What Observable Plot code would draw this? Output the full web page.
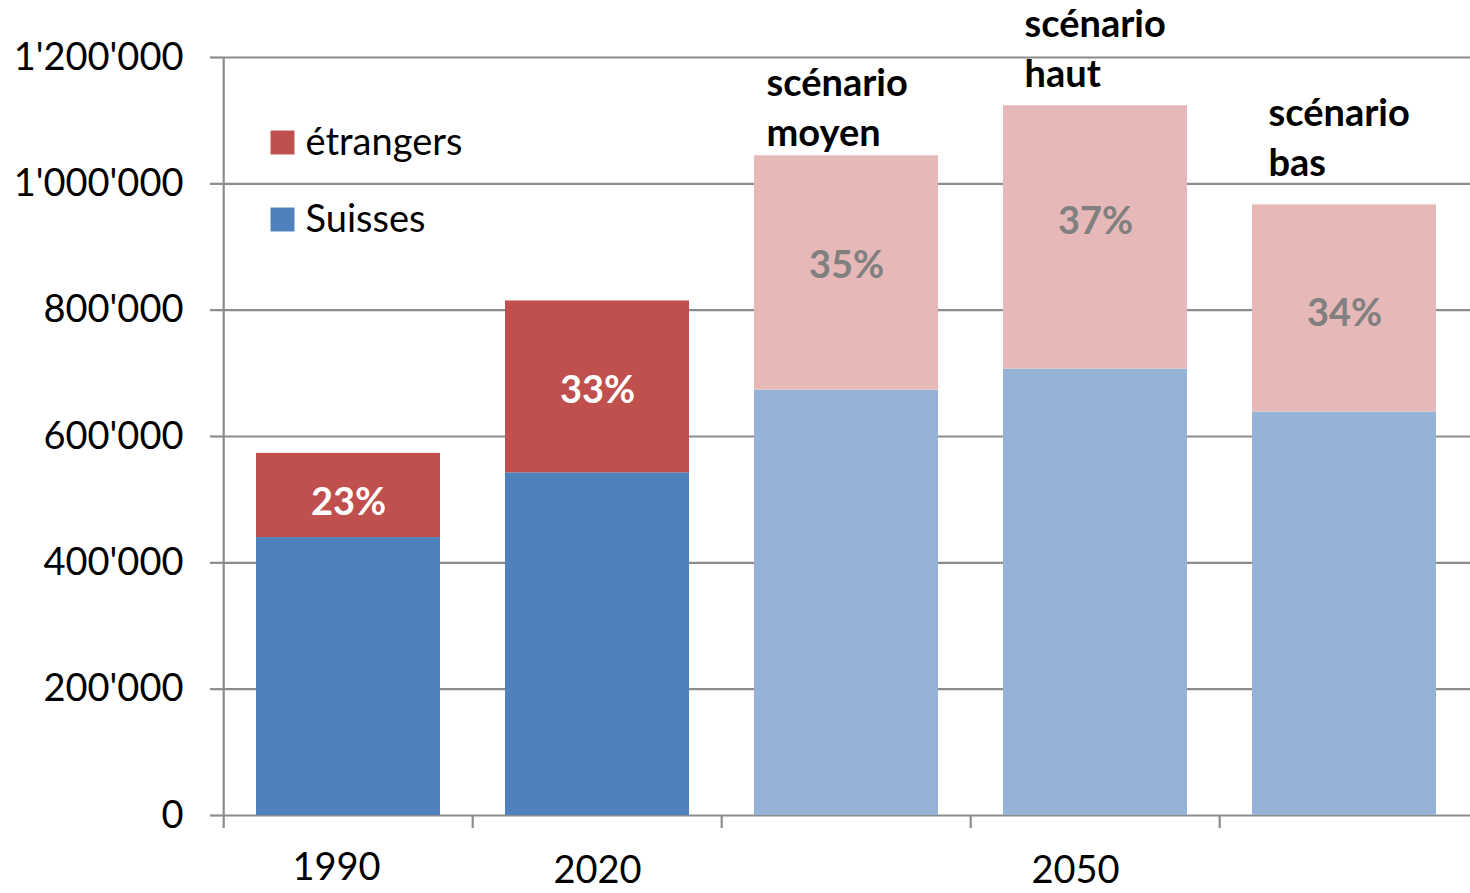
<!DOCTYPE html>
<html>
<head>
<meta charset="utf-8">
<script src="https://cdn.jsdelivr.net/npm/d3@7"></script>
<script src="https://cdn.jsdelivr.net/npm/@observablehq/plot@0.6"></script>
<style>
  html, body { margin: 0; padding: 0; background: white; }
  #chart { width: 1470px; height: 893px; overflow: hidden; }
</style>
</head>
<body>
<div id="chart"></div>
<script>
// ---- data ----
const categories = ["1990", "2020", "moyen", "haut", "bas"];
const projected = [false, false, true, true, true];
const suisses = [440000, 542500, 673500, 706800, 638700];
const etrangers = [133200, 272100, 370900, 416800, 328000];
const pctLabels = ["23%", "33%", "35%", "37%", "34%"];
const scenarioLabels = ["", "", "scénario\nmoyen", "scénario\nhaut", "scénario\nbas"];
const xTickLabels = ["1990", "2020", "2050"];
const xTickCats = ["1990", "2020", "haut"];
const yTicks = [0, 200000, 400000, 600000, 800000, 1000000, 1200000];
const seriesNames = ["étrangers", "Suisses"];

// ---- derived tables ----
const colors = {
  Suisses: ["#4F81BD", "#95B3D7"],
  "étrangers": ["#C0504D", "#E6B8B7"]
};
const rows = [];
categories.forEach((c, i) => {
  rows.push({cat: c, serie: "Suisses", value: suisses[i], proj: projected[i]});
  rows.push({cat: c, serie: "étrangers", value: etrangers[i], proj: projected[i]});
});
const pctRows = categories.map((c, i) => ({
  cat: c, y: suisses[i] + etrangers[i] / 2, label: pctLabels[i], proj: projected[i]
}));
const scenRows = categories.map((c, i) => ({
  cat: c, y: suisses[i] + etrangers[i], label: scenarioLabels[i]
})).filter(d => d.label);
const xLabRows = xTickLabels.map((l, i) => ({cat: xTickCats[i], label: l}));

const W = 1470, H = 893, mL = 222, mR = 0, mT = 57, mB = 78;
const step = (W - mL - mR) / categories.length;
const fmt = d => d3.format(",")(d).replace(/,/g, "'");
const GRID = "#8C8C8C";
const FS = 38;

// label placement tweaks (pixels)
const scenDy = {moyen: -10, haut: -19, bas: -29};
const scenDx = {moyen: -80, haut: -71, bas: -76};
const pctDy = {"1990": 7, "2020": 4, moyen: -7, haut: -16, bas: 5};
const xLabDy = {"1990": 52, "2020": 55, haut: 55};
const xLabDx = {"1990": -12, "2020": 0, haut: -20};
const legendDy = {"étrangers": 85, Suisses: 162};

const chart = Plot.plot({
  width: W, height: H,
  marginLeft: mL, marginRight: mR, marginTop: mT, marginBottom: mB,
  style: {fontFamily: "Lato, 'Open Sans', sans-serif", fontSize: FS + "px", background: "white", color: "black"},
  x: {type: "band", domain: categories, paddingInner: 0.26, paddingOuter: 0.13, axis: null},
  y: {domain: [0, 1200000], axis: null},
  marks: [
    Plot.gridY(yTicks, {stroke: GRID, strokeOpacity: 1, strokeWidth: 2.2}),
    Plot.barY(rows, Plot.stackY({
      x: "cat", y: "value", z: "serie",
      order: ["Suisses", "étrangers"],
      fill: d => colors[d.serie][d.proj ? 1 : 0]
    })),
    Plot.axisY(yTicks, {
      tickFormat: fmt, tickSize: 12, tickPadding: 27, label: null,
      stroke: GRID, strokeWidth: 2.2, fill: "black", fontSize: FS
    }),
    Plot.ruleX(["1990"], {y1: 0, y2: 1200000, dx: -step / 2, stroke: GRID, strokeWidth: 2.2}),
    Plot.axisX(categories, {
      tickSize: 13, tickFormat: () => "", dx: -step / 2, label: null,
      stroke: GRID, strokeWidth: 2.2
    }),
    ...pctRows.map(d => Plot.text([d], {
      x: "cat", y: "y", text: "label", dy: pctDy[d.cat],
      fill: d.proj ? "#808080" : "white",
      fontWeight: "bold", fontSize: FS
    })),
    ...scenRows.map(d => Plot.text([d], {
      x: "cat", y: "y", text: "label",
      textAnchor: "start", lineAnchor: "bottom", lineHeight: 1.3,
      dx: scenDx[d.cat], dy: scenDy[d.cat],
      fontWeight: "bold", fontSize: FS, fill: "black"
    })),
    ...xLabRows.map(d => Plot.text([d], {
      x: "cat", text: "label", frameAnchor: "bottom", lineAnchor: "middle",
      dy: xLabDy[d.cat], dx: xLabDx[d.cat], fontSize: FS, fill: "black"
    })),
    // legend
    ...seriesNames.map(s => Plot.dot([s], {
      frameAnchor: "top-left", symbol: "square", r: 13.5,
      fill: colors[s][0], stroke: null,
      dx: 60, dy: legendDy[s]
    })),
    ...seriesNames.map(s => Plot.text([s], {
      frameAnchor: "top-left", lineAnchor: "middle", text: d => d, textAnchor: "start",
      dx: 83, dy: legendDy[s], fontSize: FS, fill: "black"
    }))
  ]
});
document.getElementById("chart").appendChild(chart);
</script>
</body>
</html>
